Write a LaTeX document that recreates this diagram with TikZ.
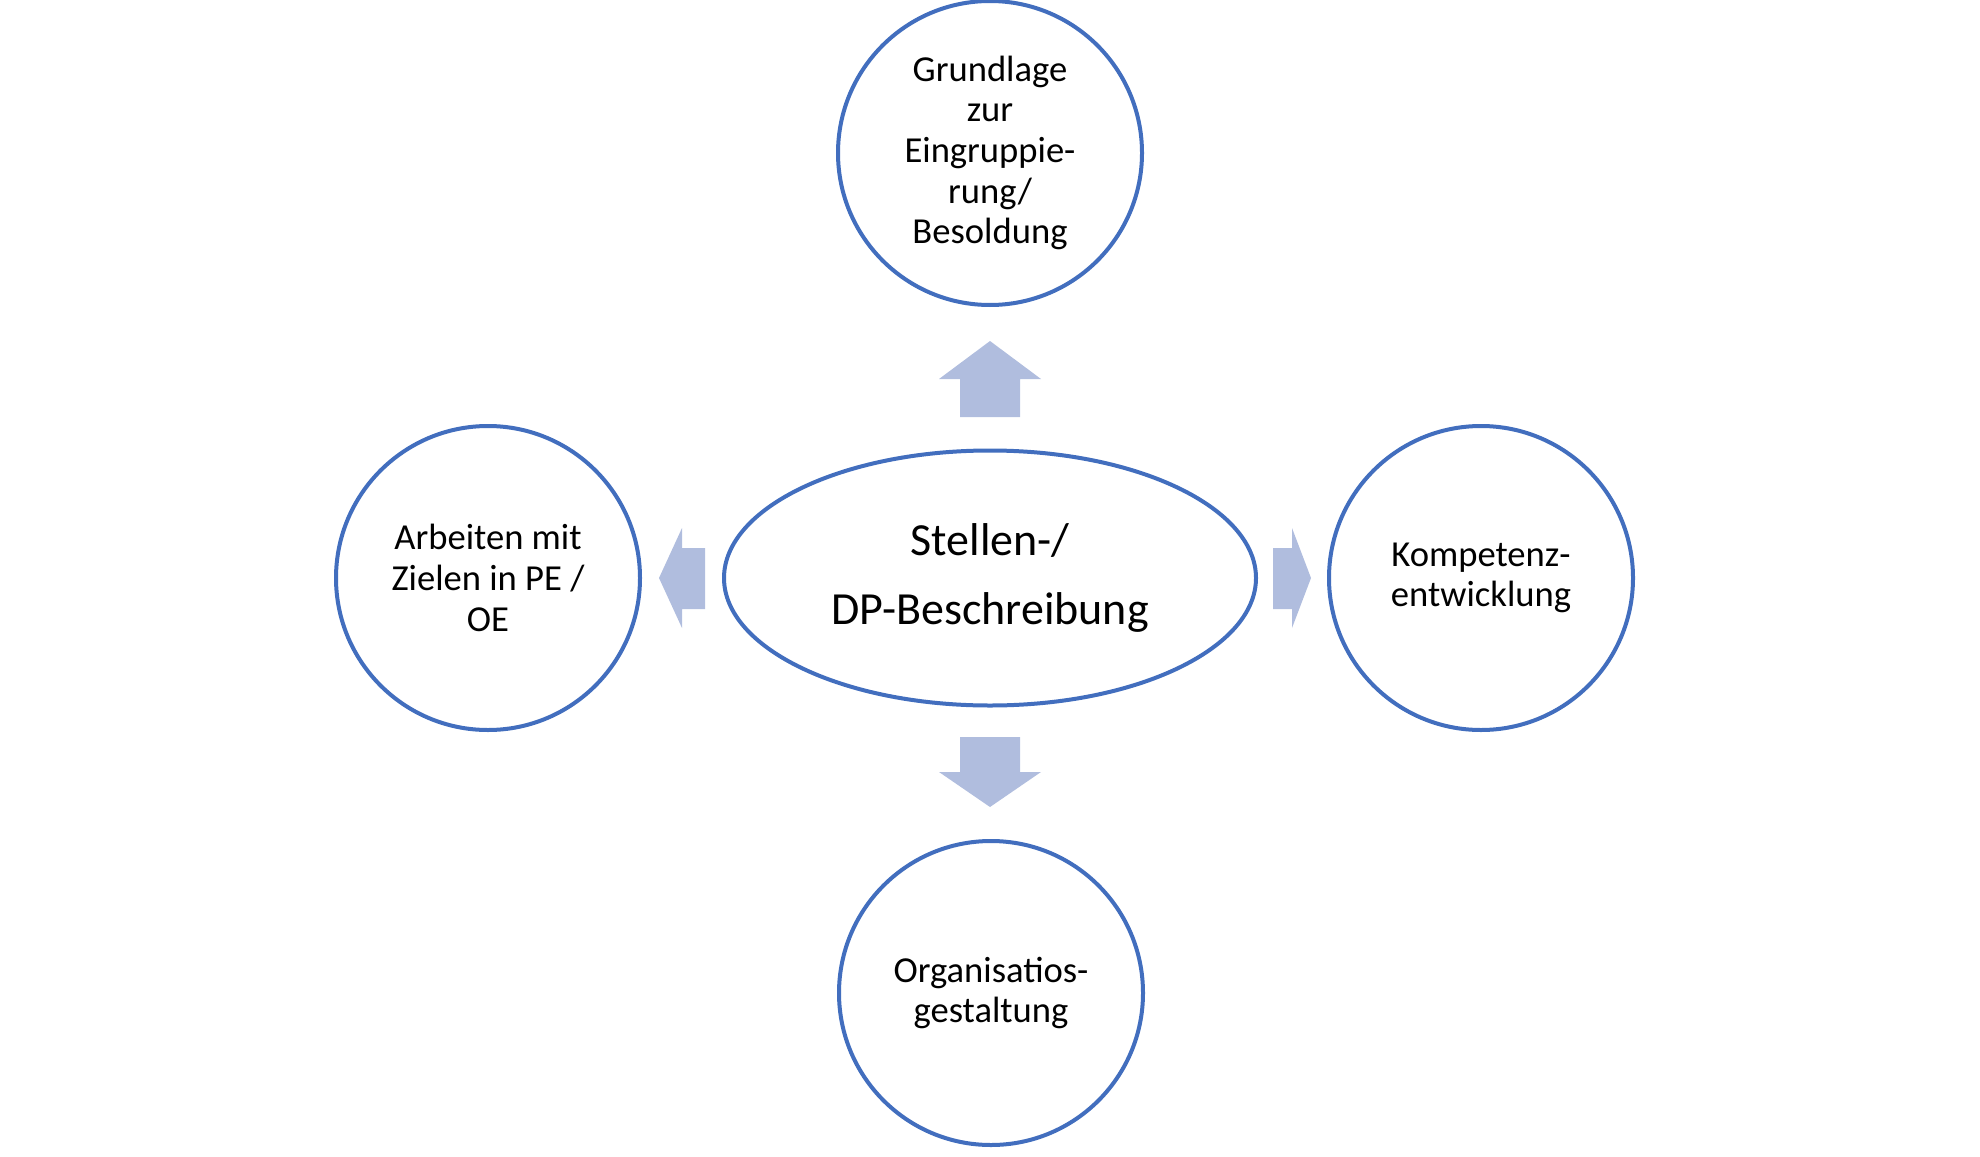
\documentclass[tikz,border=0pt]{standalone}
\usepackage{fontspec}
\setmainfont{Carlito}
\usetikzlibrary{shapes.geometric}
\definecolor{ringblue}{RGB}{66,110,190}
\definecolor{arrowblue}{RGB}{176,189,222}

\tikzset{
  ring/.style={circle, draw=ringblue, line width=2pt, fill=white, minimum size=152pt,
    inner sep=0pt, align=center, font=\fontsize{18.3}{20.3}\selectfont},
  core/.style={ellipse, draw=ringblue, line width=2pt, fill=white, minimum width=266pt,
    minimum height=127.5pt, inner sep=0pt, align=center, font=\fontsize{23}{34.75}\selectfont},
  blockarrow/.style={fill=arrowblue}
}

\begin{document}
\begin{tikzpicture}[x=0.5pt, y=-0.5pt]
  \useasboundingbox (0,0) rectangle (1980,1156);

  \node[core] (core) at (990,578) {Stellen-/\\DP-Beschreibung};
  \node[ring] (top) at (990,153) {Grundlage\\zur\\Eingruppie-\\rung/\\Besoldung};
  \node[ring] (left) at (488,578) {Arbeiten mit\\Zielen in PE /\\OE};
  \node[ring] (right) at (1481,578) {Kompetenz-\\entwicklung};
  \node[ring] (bottom) at (991,993) {Organisatios-\\gestaltung};

  \fill[blockarrow] (960,417) -- (960,379) -- (939,379) -- (990,341) -- (1041,379) -- (1020,379) -- (1020,417) -- cycle;
  \fill[blockarrow] (960,737) -- (960,772) -- (939,772) -- (990,807) -- (1041,772) -- (1020,772) -- (1020,737) -- cycle;
  \fill[blockarrow] (705,548) -- (682,548) -- (682,528) -- (659,578) -- (682,628) -- (682,609) -- (705,609) -- cycle;
  \fill[blockarrow] (1273,548) -- (1292,548) -- (1292,528) -- (1311,578) -- (1292,628) -- (1292,609) -- (1273,609) -- cycle;
\end{tikzpicture}
\end{document}
